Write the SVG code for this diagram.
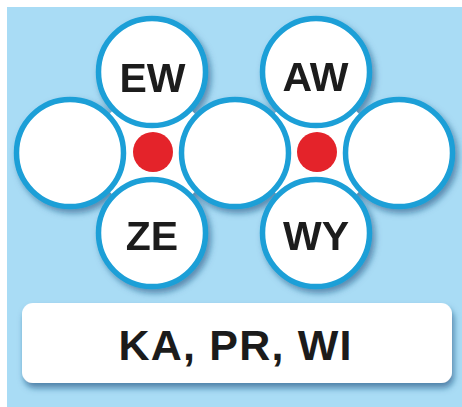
<svg xmlns="http://www.w3.org/2000/svg" width="462" height="407" viewBox="0 0 462 407">
  <defs>
    <filter id="shadow" x="-10%" y="-10%" width="130%" height="130%">
      <feDropShadow dx="3" dy="4" stdDeviation="3" flood-color="#0d4a78" flood-opacity="0.55"/>
    </filter>
    <filter id="boxshadow" x="-5%" y="-10%" width="110%" height="140%">
      <feDropShadow dx="2" dy="5" stdDeviation="3" flood-color="#0d4a78" flood-opacity="0.6"/>
    </filter>
  </defs>
  <style>
    .ring { fill: #ffffff; stroke: #1c9fd7; stroke-width: 5.5; }
    .gap { fill: #ffffff; }
    .dot { fill: #e4232a; }
    .lbl { font-family: "Liberation Sans", Arial, sans-serif; font-weight: bold; font-size: 41px; fill: #1b1b1b; text-anchor: middle; }
  </style>
  <rect x="0" y="0" width="462" height="407" fill="#ffffff"/>
  <rect x="7" y="7" width="455" height="400" fill="#a9dcf5"/>

  <g id="cluster" filter="url(#shadow)">
    <polygon class="gap" points="152,72 235,153 152,233 70,153"/>
    <polygon class="gap" points="316,72 399,153 316,233 235,153"/>
    <g id="node-ew"><circle class="ring" cx="152" cy="72" r="53.5"/><text class="lbl" x="152.5" y="92">EW</text></g>
    <g id="node-aw"><circle class="ring" cx="316" cy="72" r="53.5"/><text class="lbl" x="315.5" y="91">AW</text></g>
    <g id="node-left"><circle class="ring" cx="70" cy="153" r="53.5"/></g>
    <g id="node-middle"><circle class="ring" cx="235" cy="153" r="53.5"/></g>
    <g id="node-right"><circle class="ring" cx="399" cy="153" r="53.5"/></g>
    <g id="node-ze"><circle class="ring" cx="152" cy="233" r="53.5"/><text class="lbl" x="152" y="250">ZE</text></g>
    <g id="node-wy"><circle class="ring" cx="316" cy="233" r="53.5"/><text class="lbl" x="316" y="250">WY</text></g>
  </g>
  <g id="dot-left"><circle class="dot" cx="153" cy="152" r="20"/></g>
  <g id="dot-right"><circle class="dot" cx="317" cy="152" r="20"/></g>

  <g id="node-box">
    <rect x="22" y="303" width="430" height="80" rx="11" ry="11" fill="#ffffff" filter="url(#boxshadow)"/>
    <text class="lbl" x="235" y="360" style="font-size:43px" textLength="233" lengthAdjust="spacing">KA, PR, WI</text>
  </g>
</svg>
